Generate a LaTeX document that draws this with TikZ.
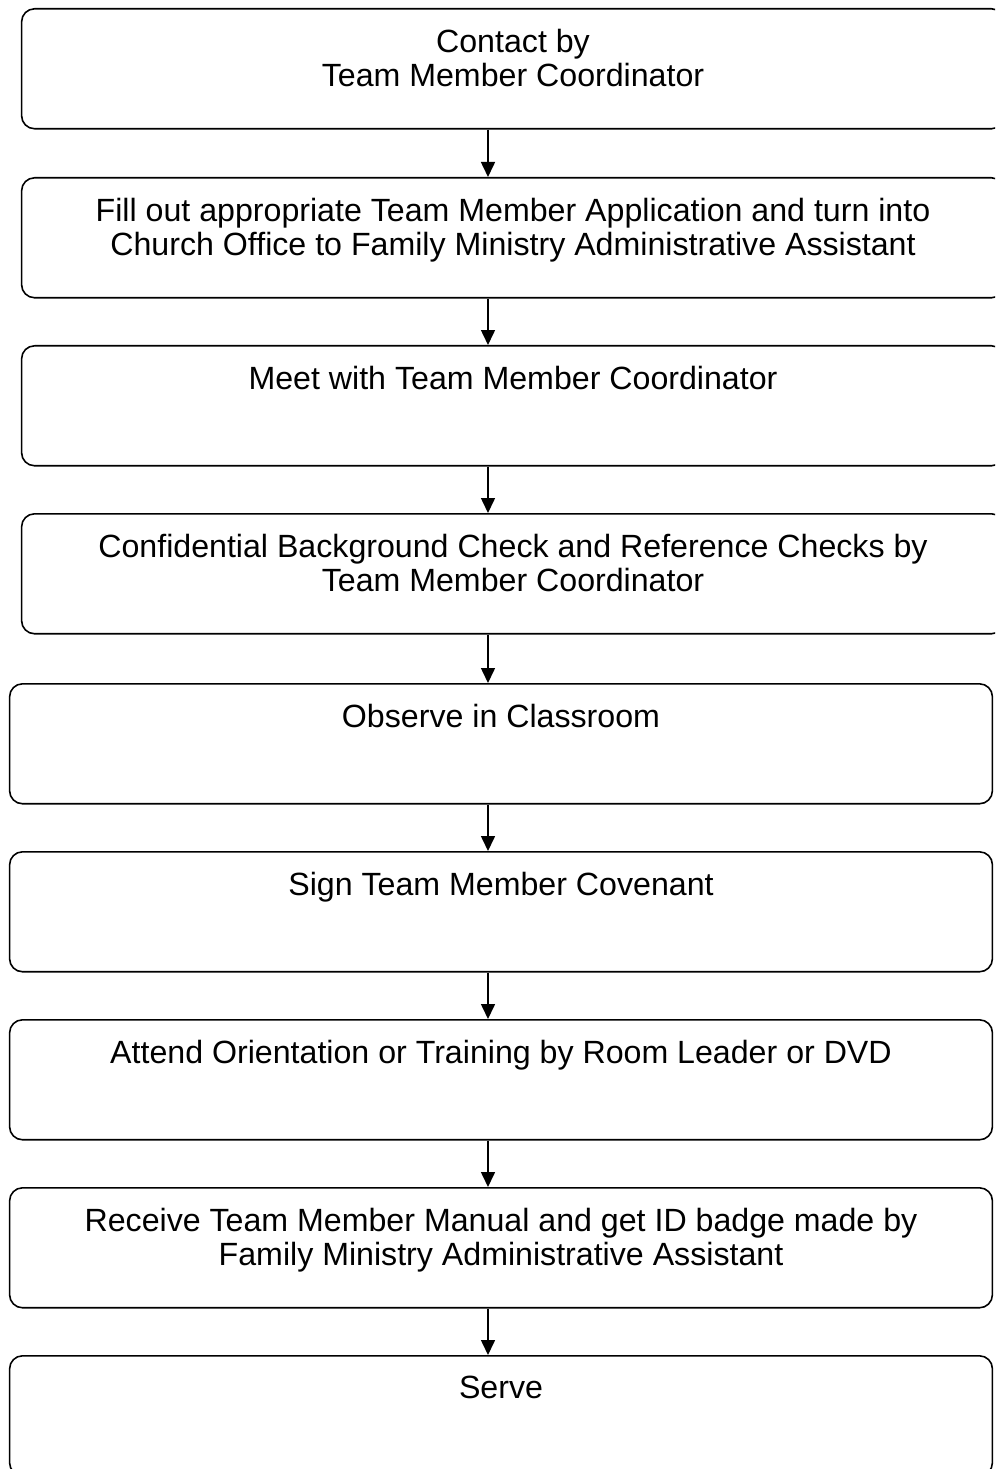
\documentclass[tikz,border=0pt]{standalone}
\usepackage{fontspec}
\setmainfont{Liberation Sans}
\usetikzlibrary{arrows.meta,positioning}

\begin{document}
\begin{tikzpicture}[
    x=0.02cm, y=-0.02cm,
    stepbox/.style={rectangle, draw, rounded corners=0.26cm, line width=0.9pt, minimum width=19.66cm, minimum height=2.4cm, anchor=north, inner sep=0pt},
    steptext/.style={anchor=north, align=center, inner sep=0pt, font=\fontsize{18.3}{19.4}\selectfont},
    arrow/.style={-{Triangle[length=0.3cm, width=0.28cm]}, line width=0.9pt}
]
\useasboundingbox (0,0) rectangle (995,1469);
\clip (0,0) rectangle (995,1469);
% upper boxes, shifted to the right
\node[stepbox] (b1) at (513,8) {};
\node[stepbox] (b2) at (513,177) {};
\node[stepbox] (b3) at (513,345) {};
\node[stepbox] (b4) at (513,513) {};
% lower boxes
\node[stepbox] (b5) at (501,683) {};
\node[stepbox] (b6) at (501,851) {};
\node[stepbox] (b7) at (501,1019) {};
\node[stepbox] (b8) at (501,1187) {};
\node[stepbox] (b9) at (501,1355) {};
% texts
\node[steptext, below=0.42cm of b1.north] (t1) {Contact by\\Team Member Coordinator};
\node[steptext, below=0.42cm of b2.north] (t2) {Fill out appropriate Team Member Application and turn into\\Church Office to Family Ministry Administrative Assistant};
\node[steptext, below=0.42cm of b3.north] (t3) {Meet with Team Member Coordinator};
\node[steptext, below=0.42cm of b4.north] (t4) {Confidential Background Check and Reference Checks by\\Team Member Coordinator};
\node[steptext, below=0.42cm of b5.north] (t5) {Observe in Classroom};
\node[steptext, below=0.42cm of b6.north] (t6) {Sign Team Member Covenant};
\node[steptext, below=0.42cm of b7.north] (t7) {Attend Orientation or Training by Room Leader or DVD};
\node[steptext, below=0.42cm of b8.north] (t8) {Receive Team Member Manual and get ID badge made by\\Family Ministry Administrative Assistant};
\node[steptext, below=0.42cm of b9.north] (t9) {Serve};
% connectors
\coordinate (ax) at (488,0);
\foreach \i/\j in {1/2,2/3,3/4,4/5,5/6,6/7,7/8,8/9}
    \draw[arrow] (b\i.south -| ax) -- (b\j.north -| ax);
\end{tikzpicture}
\end{document}
